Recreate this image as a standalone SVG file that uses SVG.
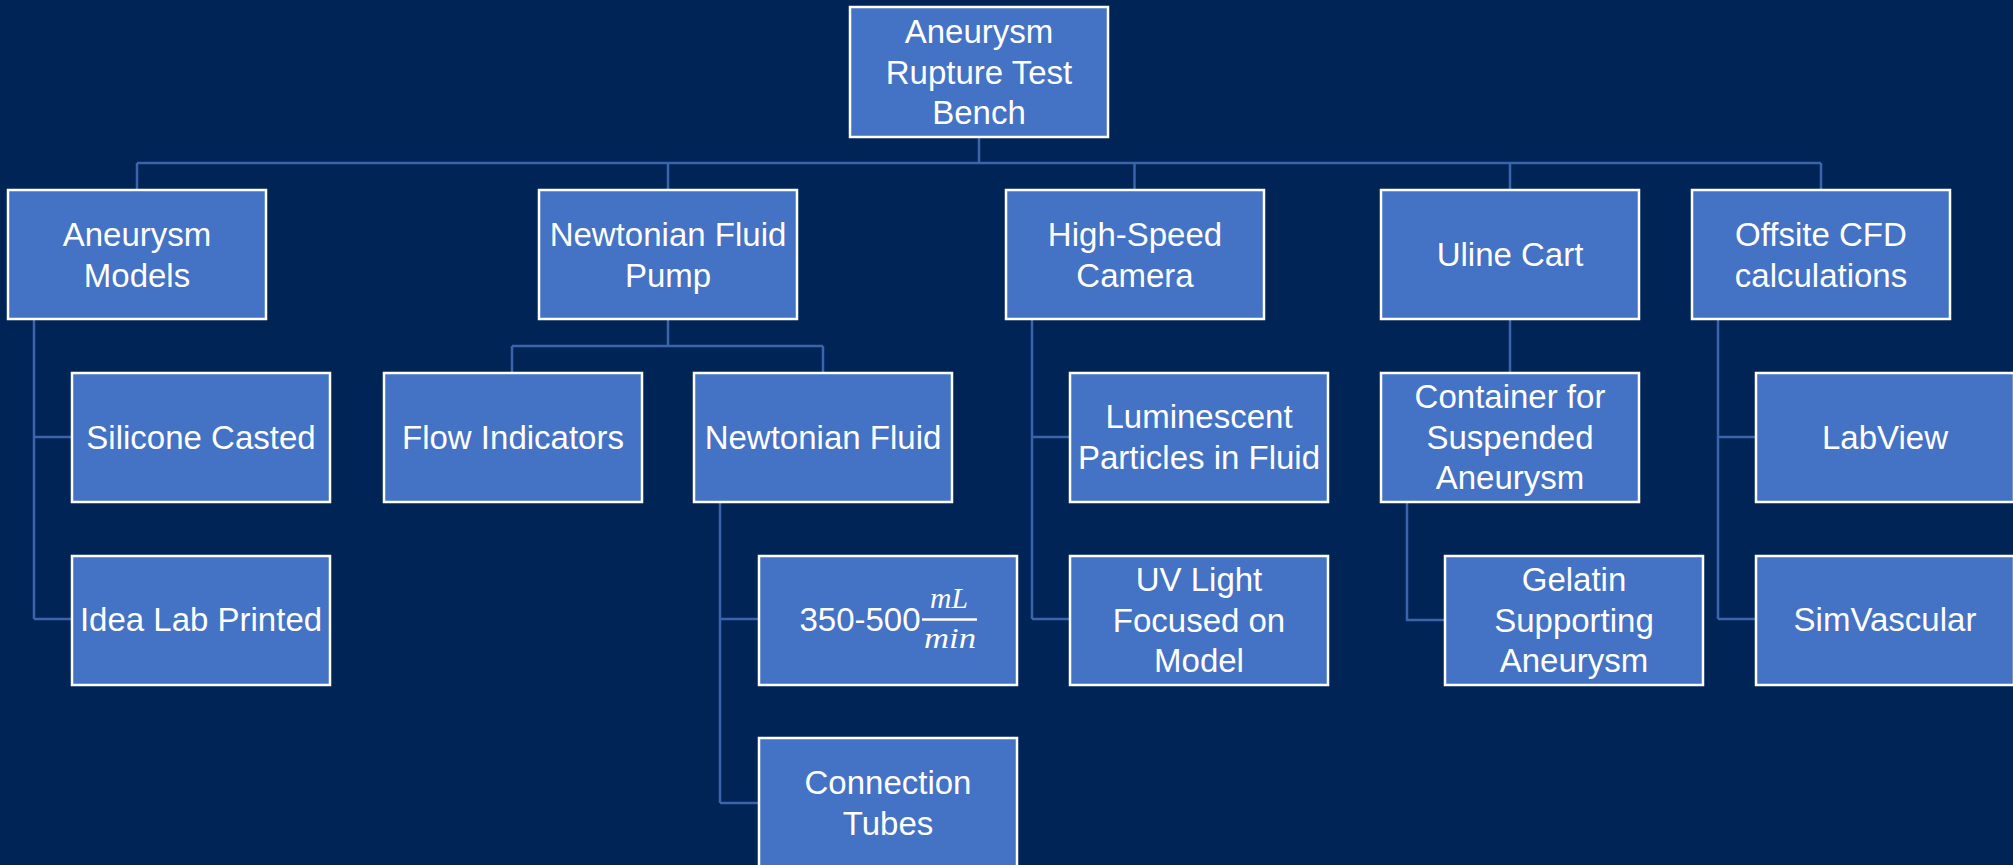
<svg xmlns="http://www.w3.org/2000/svg" width="2013" height="865" viewBox="0 0 2013 865">
<style>
.bg{fill:#002456}
.box{fill:#4472C4;stroke:#ffffff;stroke-width:2.5}
.t{font-family:"Liberation Sans",Arial,sans-serif;font-size:33px;fill:#ffffff;text-anchor:middle}
.m{font-family:"Liberation Serif","Times New Roman",serif;font-style:italic;font-size:30px;fill:#ffffff;text-anchor:middle}
.c{stroke:#3A64AC;stroke-width:2.5;fill:none}
</style>
<rect class="bg" x="0" y="0" width="2013" height="865"/>
<g id="connectors">
<path class="c" d="M979 137V163M137 163H1821M137 163V191M668 163V191M1134.5 163V191M1510 163V191M1821 163V191"/>
<path class="c" d="M34 319V619M34 437H72M34 619H72"/>
<path class="c" d="M668 319V346M512 346H823M512 346V373M823 346V373"/>
<path class="c" d="M720 502V803M720 619H759M720 803H759"/>
<path class="c" d="M1032 319V619M1032 437H1070M1032 619H1070"/>
<path class="c" d="M1510 319V373"/>
<path class="c" d="M1407 502V620H1445"/>
<path class="c" d="M1718 319V619M1718 437H1756M1718 619H1756"/>
</g>
<g id="root"><rect class="box" x="850" y="7" width="258" height="130"/><text class="t" x="979" y="43">Aneurysm</text><text class="t" x="979" y="84">Rupture Test</text><text class="t" x="979" y="124">Bench</text></g>
<g id="aneurysm-models"><rect class="box" x="8" y="190" width="258" height="129"/><text class="t" x="137" y="246">Aneurysm</text><text class="t" x="137" y="287">Models</text></g>
<g id="pump"><rect class="box" x="539" y="190" width="258" height="129"/><text class="t" x="668" y="246">Newtonian Fluid</text><text class="t" x="668" y="287">Pump</text></g>
<g id="camera"><rect class="box" x="1006" y="190" width="258" height="129"/><text class="t" x="1135" y="246">High-Speed</text><text class="t" x="1135" y="287">Camera</text></g>
<g id="cart"><rect class="box" x="1381" y="190" width="258" height="129"/><text class="t" x="1510" y="266">Uline Cart</text></g>
<g id="cfd"><rect class="box" x="1692" y="190" width="258" height="129"/><text class="t" x="1821" y="246">Offsite CFD</text><text class="t" x="1821" y="287">calculations</text></g>
<g id="silicone"><rect class="box" x="72" y="373" width="258" height="129"/><text class="t" x="201" y="449">Silicone Casted</text></g>
<g id="idea-lab"><rect class="box" x="72" y="556" width="258" height="129"/><text class="t" x="201" y="631">Idea Lab Printed</text></g>
<g id="flow-indicators"><rect class="box" x="384" y="373" width="258" height="129"/><text class="t" x="513" y="449">Flow Indicators</text></g>
<g id="newtonian-fluid"><rect class="box" x="694" y="373" width="258" height="129"/><text class="t" x="823" y="449">Newtonian Fluid</text></g>
<g id="flow-rate"><rect class="box" x="759" y="556" width="258" height="129"/><text class="t" x="860" y="631">350-500</text><line x1="922" y1="619.5" x2="977" y2="619.5" stroke="#ffffff" stroke-width="2.5"/><text class="m" x="949" y="608" textLength="38" lengthAdjust="spacingAndGlyphs">mL</text><text class="m" x="950" y="648" textLength="52" lengthAdjust="spacingAndGlyphs">min</text></g>
<g id="tubes"><rect class="box" x="759" y="738" width="258" height="129"/><text class="t" x="888" y="794">Connection</text><text class="t" x="888" y="835">Tubes</text></g>
<g id="particles"><rect class="box" x="1070" y="373" width="258" height="129"/><text class="t" x="1199" y="428">Luminescent</text><text class="t" x="1199" y="469">Particles in Fluid</text></g>
<g id="uv-light"><rect class="box" x="1070" y="556" width="258" height="129"/><text class="t" x="1199" y="591">UV Light</text><text class="t" x="1199" y="632">Focused on</text><text class="t" x="1199" y="672">Model</text></g>
<g id="container"><rect class="box" x="1381" y="373" width="258" height="129"/><text class="t" x="1510" y="408">Container for</text><text class="t" x="1510" y="449">Suspended</text><text class="t" x="1510" y="489">Aneurysm</text></g>
<g id="gelatin"><rect class="box" x="1445" y="556" width="258" height="129"/><text class="t" x="1574" y="591">Gelatin</text><text class="t" x="1574" y="632">Supporting</text><text class="t" x="1574" y="672">Aneurysm</text></g>
<g id="labview"><rect class="box" x="1756" y="373" width="258" height="129"/><text class="t" x="1885" y="449">LabView</text></g>
<g id="simvascular"><rect class="box" x="1756" y="556" width="258" height="129"/><text class="t" x="1885" y="631">SimVascular</text></g>
</svg>
